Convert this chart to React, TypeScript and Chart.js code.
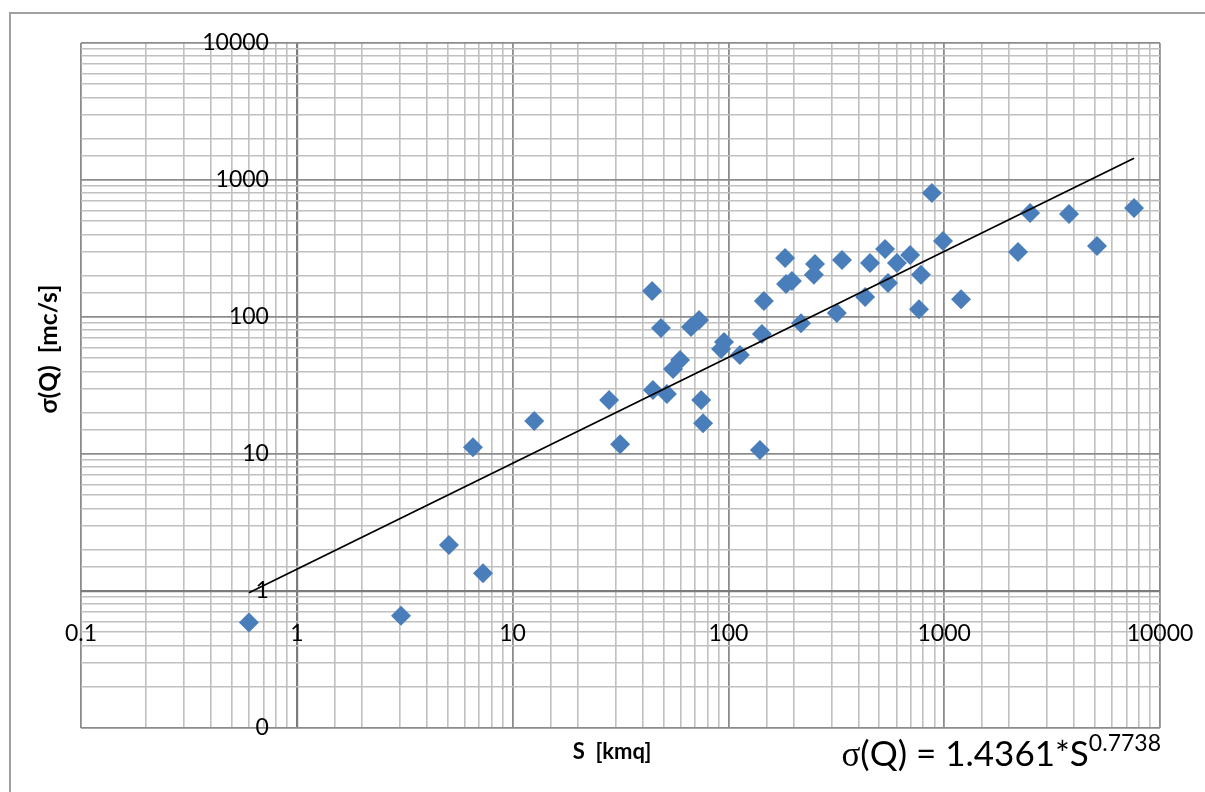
import React, { useEffect, useRef } from "react";
import { Chart, registerables } from "chart.js";

Chart.register(...registerables);

// ---- data ----
const sArea = [0.6, 3.04, 5.07, 6.55, 7.29, 12.6, 28, 31.5, 44.3, 44.7, 48.7, 51.9, 55.4, 59.7, 67.1, 73.1, 74.8, 76.3, 92.5, 95.4, 113, 140, 143, 146, 183, 185, 197, 217, 249, 252, 318, 336, 430, 453, 532, 549, 604, 695, 764, 780, 877, 987, 1197, 2198, 2500, 3787, 5105, 7580];
const sigmaQ = [0.59, 0.66, 2.17, 11.2, 1.35, 17.4, 24.8, 11.8, 155, 29.3, 83, 27.4, 41.7, 48.5, 84.5, 95, 24.8, 16.8, 58.4, 65.7, 52.8, 10.7, 75, 131, 270, 174, 183, 90, 203, 244, 107, 261, 140, 248, 313, 177, 248, 284, 114, 203, 804, 359, 135, 298, 574, 565, 330, 625];

// trendline end points (power fit)
const trendS = [0.6, 7580];
const trendQ = [0.97, 1440];

const decades = [0.1, 1, 10, 100, 1000, 10000];
const xTickLabels = ["0.1", "1", "10", "100", "1000", "10000"];
const yTickLabels = ["0", "1", "10", "100", "1000", "10000"];

const xTitle = "S  [kmq]";
const yTitle = "σ(Q)  [mc/s]";

const decadeIndex = (v: number) =>
  decades.findIndex((d) => Math.abs(d - v) / d < 1e-6);

const gridColor = (ctx: any) => {
  const v = ctx.tick ? ctx.tick.value : NaN;
  if (Math.abs(v - 1) < 1e-9) return "#7c7c7c";
  return decadeIndex(v) >= 0 ? "#8c8c8c" : "#c0c0c0";
};
const gridWidth = (ctx: any) => {
  const v = ctx.tick ? ctx.tick.value : NaN;
  if (Math.abs(v - 1) < 1e-9) return 2.2;
  return decadeIndex(v) >= 0 ? 1.8 : 1.6;
};

export default function App() {
  const ref = useRef<HTMLCanvasElement>(null);

  useEffect(() => {
    if (!ref.current) return;
    Chart.defaults.font.family = "Lato";
    const chart = new Chart(ref.current, {
      type: "scatter",
      data: {
        datasets: [
          {
            type: "line",
            label: "trend",
            data: trendS.map((s, i) => ({ x: s, y: trendQ[i] })),
            borderColor: "#000000",
            borderWidth: 1.8,
            pointRadius: 0,
            showLine: true,
            fill: false,
            order: 0,
          } as any,
          {
            label: "σ(Q)",
            data: sArea.map((s, i) => ({ x: s, y: sigmaQ[i] })),
            pointStyle: "rectRot",
            pointRadius: 10,
            pointBackgroundColor: "#4a7ebb",
            pointBorderColor: "#4a7ebb",
            pointBorderWidth: 0,
            order: 1,
          } as any,
        ],
      },
      options: {
        responsive: false,
        animation: false,
        layout: { padding: { left: 81, top: 43, right: 45, bottom: 64 } },
        plugins: { legend: { display: false }, tooltip: { enabled: false } },
        scales: {
          x: {
            type: "logarithmic",
            min: 0.1,
            max: 10000,
            position: { y: 1 } as any,
            border: { display: false },
            grid: { color: gridColor, lineWidth: gridWidth, drawTicks: false },
            ticks: {
              autoSkip: false,
              maxRotation: 0,
              padding: 0,
              color: "#000",
              font: { size: 23, lineHeight: 3.7 },
              callback: (v: any) => {
                const i = decadeIndex(Number(v));
                return i >= 0 ? xTickLabels[i] : "";
              },
            },
          },
          y: {
            type: "logarithmic",
            min: 0.1,
            max: 10000,
            position: { x: 0.743 } as any,
            border: { display: false },
            grid: { color: gridColor, lineWidth: gridWidth, drawTicks: false },
            ticks: {
              autoSkip: false,
              padding: 0,
              color: "#000",
              font: { size: 23 },
              callback: (v: any) => {
                const i = decadeIndex(Number(v));
                return i >= 0 ? yTickLabels[i] : "";
              },
            },
          },
        },
      },
    });
    return () => chart.destroy();
  }, []);

  return (
    <div
      style={{
        position: "fixed",
        left: 0,
        top: 0,
        width: 1205,
        height: 792,
        overflow: "hidden",
        background: "#ffffff",
        fontFamily: "Lato",
      }}
    >
      <div
        style={{
          position: "absolute",
          left: 9,
          top: 12,
          width: 1300,
          height: 900,
          border: "2px solid #a0a0a0",
        }}
      />
      <canvas
        ref={ref}
        width={1205}
        height={792}
        style={{ position: "absolute", left: 0, top: 0, width: 1205, height: 792 }}
      />
      <div
        style={{
          position: "absolute",
          left: 512,
          top: 737,
          width: 200,
          textAlign: "center",
          fontWeight: "bold",
          fontSize: 22,
          whiteSpace: "pre",
          color: "#000",
        }}
      >
        {xTitle}
      </div>
      <div
        style={{
          position: "absolute",
          left: 48 - 120,
          top: 349 - 15,
          width: 240,
          height: 30,
          lineHeight: "30px",
          textAlign: "center",
          fontWeight: "bold",
          fontSize: 24.5,
          whiteSpace: "pre",
          color: "#000",
          transform: "rotate(-90deg)",
        }}
      >
        {yTitle}
      </div>
      <div
        style={{
          position: "absolute",
          right: 44,
          top: 731,
          fontSize: 35,
          whiteSpace: "nowrap",
          color: "#000",
        }}
      >
        <span style={{ fontFamily: "Liberation Serif" }}>σ</span>(Q) = 1.4361*S
        <span style={{ fontSize: 23, position: "relative", top: -15 }}>0.7738</span>
      </div>
    </div>
  );
}
